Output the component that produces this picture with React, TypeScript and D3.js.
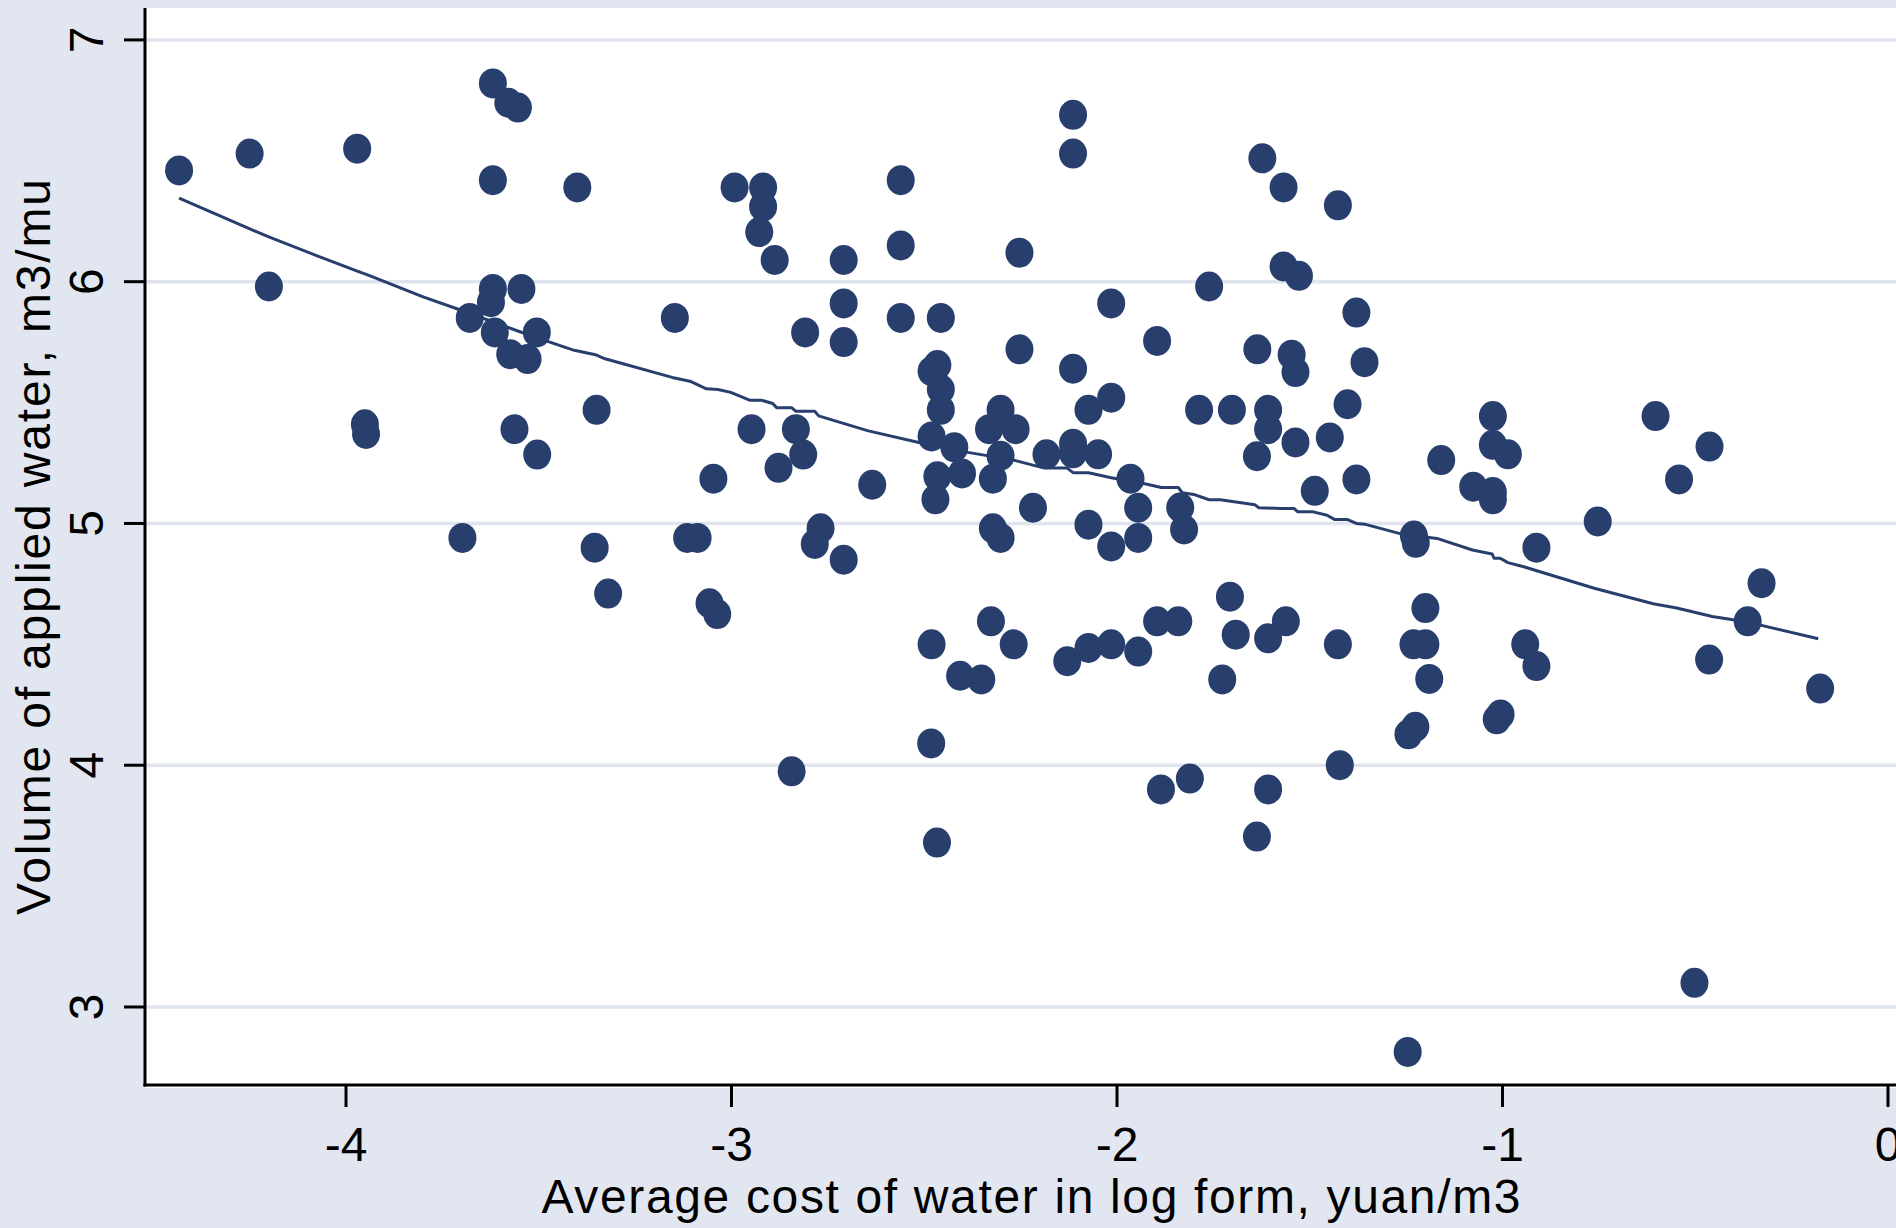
import React from 'react';
import * as d3 from 'd3';

const W = 1896;
const H = 1228;

const xTicks = [-4, -3, -2, -1, 0];
const yTicks = [3, 4, 5, 6, 7];
const xTitle = 'Average cost of water in log form, yuan/m3';
const yTitle = 'Volume of applied water, m3/mu';

// Scatter: average cost of water (log), volume of applied water
const costLog = [
  -4.433, -4.25, -4.2, -3.971, -3.951, -3.948, -3.698, -3.679, -3.619, -3.619,
  -3.619, -3.624, -3.614, -3.579, -3.554, -3.545, -3.574, -3.529, -3.563, -3.505,
  -3.504, -3.4, -3.35, -3.355, -3.32, -3.147, -3.115, -3.088, -3.047, -3.057,
  -3.037, -2.992, -2.918, -2.918, -2.928, -2.888, -2.709, -2.709, -2.809, -2.709,
  -2.948, -2.833, -2.814, -2.878, -2.635, -2.769, -2.784, -2.709, -2.844, -2.561,
  -2.561, -2.561, -2.457, -2.481, -2.466, -2.457, -2.457, -2.481, -2.422, -2.466,
  -2.402, -2.471, -2.481, -2.482, -2.467, -2.407, -2.352, -2.302, -2.332, -2.263,
  -2.302, -2.322, -2.322, -2.302, -2.327, -2.268, -2.253, -2.253, -2.218, -2.183,
  -2.114, -2.114, -2.114, -2.114, -2.114, -2.129, -2.074, -2.049, -2.074, -2.074,
  -2.015, -2.015, -2.015, -2.015, -1.965, -1.945, -1.945, -1.945, -1.896, -1.896,
  -1.886, -1.841, -1.836, -1.826, -1.811, -1.787, -1.761, -1.727, -1.707, -1.702,
  -1.692, -1.636, -1.637, -1.637, -1.623, -1.608, -1.608, -1.608, -1.608, -1.568,
  -1.568, -1.528, -1.562, -1.547, -1.537, -1.537, -1.487, -1.448, -1.427, -1.427,
  -1.422, -1.402, -1.379, -1.379, -1.358, -1.23, -1.225, -1.231, -1.2, -1.2,
  -1.19, -1.244, -1.226, -1.246, -1.159, -1.076, -1.025, -1.025, -1.025, -1.025,
  -0.986, -1.015, -1.005, -0.941, -0.912, -0.912, -0.753, -0.603, -0.542, -0.463,
  -0.502, -0.328, -0.364, -0.464, -0.176,
];

const waterVol = [
  6.46, 6.53, 5.98, 6.55, 5.41, 5.37, 4.94, 5.85, 6.82, 6.42,
  5.97, 5.915, 5.79, 6.74, 6.72, 5.97, 5.7, 5.68, 5.39, 5.79,
  5.285, 6.39, 5.47, 4.9, 4.71, 5.85, 4.94, 4.94, 5.185, 4.67,
  4.625, 6.39, 6.39, 6.31, 6.205, 6.09, 6.09, 5.91, 5.79, 5.75,
  5.39, 5.39, 5.285, 5.23, 5.16, 4.98, 4.915, 4.85, 3.975, 6.42,
  6.15, 5.85, 5.85, 5.63, 5.655, 5.555, 5.47, 5.36, 5.315, 5.195,
  5.207, 5.1, 4.5, 4.09, 3.68, 4.37, 4.355, 5.47, 5.39, 5.39,
  5.28, 5.185, 4.98, 4.94, 4.595, 4.5, 6.12, 5.72, 5.065, 5.286,
  6.69, 6.53, 5.64, 5.33, 5.29, 4.43, 5.47, 5.286, 4.995, 4.485,
  5.91, 5.52, 4.905, 4.5, 5.185, 5.065, 4.94, 4.47, 5.755, 4.595,
  3.9, 4.595, 5.066, 4.975, 3.945, 5.47, 5.98, 4.355, 4.697, 5.47,
  4.54, 5.72, 5.278, 3.705, 6.51, 5.47, 5.39, 4.525, 3.9, 6.39,
  6.063, 6.024, 4.595, 5.698, 5.626, 5.335, 5.135, 5.356, 6.316, 4.5,
  4.0, 5.493, 5.872, 5.182, 5.667, 4.95, 4.92, 4.5, 4.5, 4.65,
  4.357, 4.128, 4.159, 2.814, 5.262, 5.152, 5.444, 5.325, 5.13, 5.1,
  5.286, 4.19, 4.21, 4.5, 4.41, 4.9, 5.008, 5.444, 5.182, 5.318,
  3.1, 4.753, 4.595, 4.437, 4.317,
];

// Lowess smoother as drawn
const lowessX = [
  -4.433, -4.251, -4.202, -4.073, -3.969, -3.944, -3.8, -3.705, -3.556, -3.477,
  -3.408, -3.353, -3.328, -3.154, -3.105, -3.065, -3.035, -3.002, -2.953, -2.923,
  -2.893, -2.883, -2.844, -2.833, -2.784, -2.774, -2.714, -2.645, -2.511, -2.387,
  -2.268, -2.188, -2.129, -2.114, -2.074, -2.015, -1.925, -1.885, -1.841, -1.831,
  -1.801, -1.761, -1.732, -1.642, -1.632, -1.577, -1.541, -1.531, -1.491, -1.455,
  -1.435, -1.402, -1.379, -1.358, -1.261, -1.17, -1.078, -1.027, -1.022, -1.006,
  -0.986, -0.945, -0.762, -0.609, -0.548, -0.456, -0.364, -0.181,
];
const lowessY = [
  6.346, 6.219, 6.186, 6.106, 6.043, 6.028, 5.937, 5.884, 5.797, 5.753,
  5.716, 5.698, 5.681, 5.604, 5.587, 5.557, 5.554, 5.542, 5.51, 5.51,
  5.496, 5.479, 5.479, 5.464, 5.464, 5.445, 5.416, 5.383, 5.334, 5.294,
  5.262, 5.229, 5.229, 5.21, 5.21, 5.189, 5.163, 5.149, 5.149, 5.127,
  5.12, 5.098, 5.098, 5.077, 5.065, 5.062, 5.062, 5.048, 5.048, 5.034,
  5.016, 5.016, 5.0, 4.997, 4.956, 4.938, 4.89, 4.874, 4.856, 4.856,
  4.838, 4.821, 4.732, 4.668, 4.65, 4.615, 4.592, 4.523,
];

const BG = '#E1E6F0';
const GRID = '#DFE4EE';
const NAVY = '#283F6E';
const FONT = '"Liberation Sans", Arial, Helvetica, sans-serif';

export default function App() {
  const left = 145;
  const top = 8;
  const right = W;
  const bottom = 1085;

  const x = d3.scaleLinear().domain([-4, 0]).range([346, 1888]);
  const y = d3.scaleLinear().domain([3, 7]).range([1007, 39.9]);

  const lineGen = d3
    .line<number>()
    .x((d) => x(d))
    .y((_, i) => y(lowessY[i]));

  return (
    <svg
      width={W}
      height={H}
      viewBox={`0 0 ${W} ${H}`}
      style={{ position: 'absolute', left: 0, top: 0, display: 'block' }}
    >
      <rect x={0} y={0} width={W} height={H} fill={BG} />
      <rect x={left} y={top} width={right - left} height={bottom - top + 3} fill="#FFFFFF" />

      {yTicks.map((t) => (
        <line key={`g${t}`} x1={left} x2={right} y1={y(t)} y2={y(t)} stroke={GRID} strokeWidth={3.5} />
      ))}

      {costLog.map((cx, i) => (
        <ellipse key={`p${i}`} cx={x(cx)} cy={y(waterVol[i])} rx={14} ry={15} fill={NAVY} />
      ))}

      <path d={lineGen(lowessX) || ''} fill="none" stroke={NAVY} strokeWidth={3} strokeLinejoin="round" />

      <line x1={left} x2={left} y1={top} y2={bottom + 1.5} stroke="#000" strokeWidth={3} />
      <line x1={left - 1.5} x2={right} y1={bottom} y2={bottom} stroke="#000" strokeWidth={3} />

      {yTicks.map((t) => (
        <g key={`yt${t}`}>
          <line x1={left - 21} x2={left} y1={y(t)} y2={y(t)} stroke="#000" strokeWidth={3} />
          <text
            transform={`translate(103, ${y(t)}) rotate(-90)`}
            textAnchor="middle"
            fontFamily={FONT}
            fontSize={48}
            fill="#000"
          >
            {t}
          </text>
        </g>
      ))}

      {xTicks.map((t) => (
        <g key={`xt${t}`}>
          <line x1={x(t)} x2={x(t)} y1={bottom} y2={bottom + 22} stroke="#000" strokeWidth={3} />
          <text x={x(t)} y={1161} textAnchor="middle" fontFamily={FONT} fontSize={48} fill="#000">
            {t}
          </text>
        </g>
      ))}

      <text
        x={1031}
        y={1213}
        textAnchor="middle"
        fontFamily={FONT}
        fontSize={48}
        fill="#000"
        textLength={979}
        lengthAdjust="spacing"
      >
        {xTitle}
      </text>
      <text
        transform={`translate(50, 547) rotate(-90)`}
        textAnchor="middle"
        fontFamily={FONT}
        fontSize={48}
        fill="#000"
        textLength={736}
        lengthAdjust="spacing"
      >
        {yTitle}
      </text>
    </svg>
  );
}
